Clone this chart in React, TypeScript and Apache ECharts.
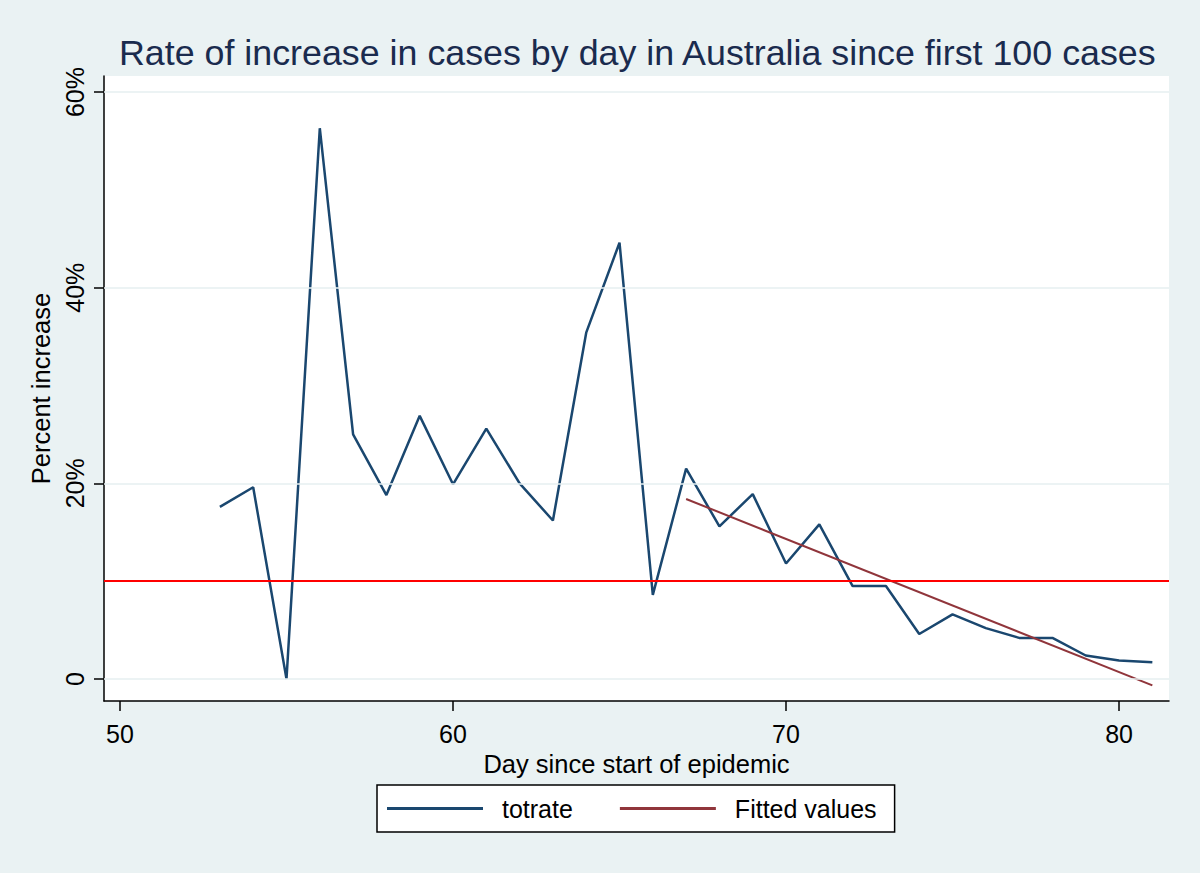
import React, { useEffect, useRef } from "react";
import * as echarts from "echarts";

const days = [53, 54, 55, 56, 57, 58, 59, 60, 61, 62, 63, 64, 65, 66, 67, 68, 69, 70, 71, 72, 73, 74, 75, 76, 77, 78, 79, 80, 81];
const totrate = [17.6, 19.6, 0, 56.3, 25.0, 18.8, 26.9, 19.9, 25.6, 20.0, 16.2, 35.4, 44.6, 8.6, 21.5, 15.6, 18.9, 11.8, 15.8, 9.5, 9.5, 4.6, 6.6, 5.2, 4.2, 4.2, 2.4, 1.9, 1.7];
const fittedDays = [67, 81];
const fittedValues = [18.4, -0.65];
const thresholdValue = [10];
const xTicks = [50, 60, 70, 80];
const yTicks = [0, 20, 40, 60];
const yTickLabels = ["0", "20%", "40%", "60%"];
const seriesNames = ["totrate", "Fitted values"];

const FONT = '"Liberation Sans", Arial, Helvetica, sans-serif';

export default function App() {
  const ref = useRef<HTMLDivElement>(null);

  useEffect(() => {
    document.body.style.margin = "0";
    if (!ref.current) return;
    const chart = echarts.init(ref.current, undefined, { renderer: "svg" });
    const option: any = {
      animation: false,
      backgroundColor: "#eaf2f3",
      textStyle: { fontFamily: FONT },
      title: {
        text: "Rate of increase in cases by day in Australia since first 100 cases",
        left: 119,
        top: 35,
        padding: 0,
        textStyle: {
          fontFamily: FONT,
          fontSize: 35.8,
          lineHeight: 35.8,
          fontWeight: "normal",
          color: "#1a2b4e",
        },
      },
      grid: {
        left: 104,
        right: 31,
        top: 76,
        bottom: 172,
        show: true,
        backgroundColor: "#ffffff",
        borderWidth: 0,
        containLabel: false,
        outerBoundsMode: "none",
      },
      legend: {
        data: seriesNames,
        left: 377,
        top: 785,
        orient: "horizontal",
        icon: "rect",
        itemWidth: 96,
        itemHeight: 3,
        itemGap: 47,
        padding: [11, 18, 11, 10],
        borderColor: "#000000",
        borderWidth: 1.5,
        borderRadius: 0,
        backgroundColor: "#ffffff",
        selectedMode: false,
        textStyle: {
          fontFamily: FONT,
          fontSize: 25,
          lineHeight: 25,
          color: "#000000",
          padding: [0, 0, 0, 14],
        },
      },
      xAxis: {
        type: "value",
        min: 49.52,
        max: 81.5,
        name: "Day since start of epidemic",
        nameLocation: "middle",
        nameGap: 43,
        nameTextStyle: { fontFamily: FONT, fontSize: 25.5, lineHeight: 25.5, color: "#000000" },
        axisLine: { show: true, onZero: false, lineStyle: { color: "#000000", width: 1.5 } },
        axisTick: { show: true, length: 10, customValues: xTicks, lineStyle: { color: "#000000", width: 1.5 } },
        axisLabel: {
          customValues: xTicks,
          margin: 20,
          fontFamily: FONT,
          fontSize: 25,
          lineHeight: 25,
          color: "#000000",
        },
        splitLine: { show: false },
      },
      yAxis: {
        type: "value",
        min: -2.25,
        max: 61.64,
        name: "Percent increase",
        nameLocation: "middle",
        nameRotate: 90,
        nameGap: 38,
        nameTextStyle: { fontFamily: FONT, fontSize: 25.5, lineHeight: 25.5, color: "#000000" },
        axisLine: { show: true, onZero: false, lineStyle: { color: "#000000", width: 1.5 } },
        axisTick: { show: true, length: 10, customValues: yTicks, lineStyle: { color: "#000000", width: 1.5 } },
        axisLabel: {
          customValues: yTicks,
          rotate: 90,
          margin: 17,
          fontFamily: FONT,
          fontSize: 25,
          lineHeight: 25,
          color: "#000000",
          formatter: (v: number) => {
            const i = yTicks.indexOf(v);
            return i >= 0 ? yTickLabels[i] : "";
          },
        },
        splitLine: { show: false },
      },
      series: [
        {
          name: "grid",
          type: "line",
          data: [],
          z: 1,
          silent: true,
          markLine: {
            silent: true,
            symbol: ["none", "none"],
            label: { show: false },
            lineStyle: { color: "#e6eff1", width: 1.5, type: "solid" },
            emphasis: { disabled: true },
            data: yTicks.map((v) => ({ yAxis: v })),
          },
        },
        {
          name: seriesNames[0],
          type: "line",
          data: days.map((d, i) => [d, totrate[i]]),
          showSymbol: false,
          symbol: "none",
          z: 3,
          lineStyle: { color: "#1a476f", width: 2.5 },
          itemStyle: { color: "#1a476f" },
          markLine: {
            silent: true,
            symbol: ["none", "none"],
            label: { show: false },
            lineStyle: { color: "#ff0000", width: 2.2, type: "solid" },
            emphasis: { disabled: true },
            data: thresholdValue.map((v) => ({ yAxis: v })),
          },
        },
        {
          name: seriesNames[1],
          type: "line",
          data: fittedDays.map((d, i) => [d, fittedValues[i]]),
          showSymbol: false,
          symbol: "none",
          z: 4,
          lineStyle: { color: "#90353b", width: 2 },
          itemStyle: { color: "#90353b" },
        },
      ],
    };
    chart.setOption(option);
    return () => chart.dispose();
  }, []);

  return (
    <div
      ref={ref}
      style={{ position: "absolute", left: 0, top: 0, width: 1200, height: 873 }}
    />
  );
}
